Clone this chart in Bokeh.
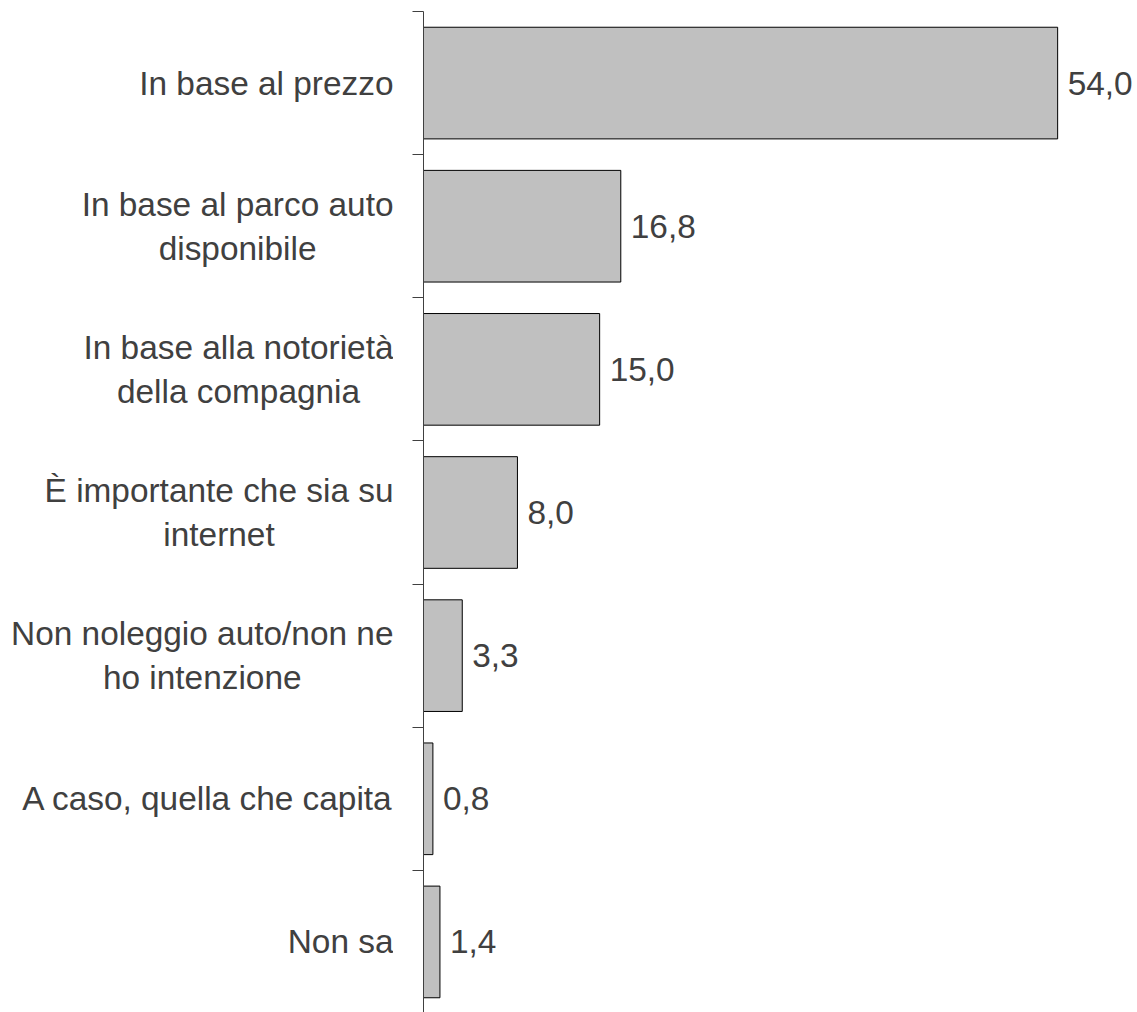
from bokeh.plotting import figure
from bokeh.models import Range1d, FixedTicker, ColumnDataSource, LabelSet
from bokeh.layouts import row
from bokeh.core.properties import value
from bokeh.embed import file_html
from bokeh.resources import INLINE

categories = [
    "In base al prezzo",
    "In base al parco auto\ndisponibile",
    "In base alla notorietà\ndella compagnia",
    "È importante che sia su\ninternet",
    "Non noleggio auto/non ne\nho intenzione",
    "A caso, quella che capita",
    "Non sa",
]
values = [54.0, 16.8, 15.0, 8.0, 3.3, 0.8, 1.4]

n = len(categories)
centers = [i + 0.5 for i in range(n)]
boundaries = list(range(n + 1))
value_labels = [f"{v:.1f}".replace(".", ",") for v in values]

src = ColumnDataSource(dict(y=centers, v=values, lab=value_labels,
                            cat=categories, xr=[1.0] * n))

FONT = "Liberation Sans"
FSIZE = "33.4px"
TXT = "#404040"
H = 1013
yr = Range1d(n, 0)

# left panel: category labels (block right-aligned, lines centred)
pl = figure(width=393, height=H, output_backend="svg", toolbar_location=None,
            x_range=Range1d(0, 1), y_range=yr,
            x_axis_location=None, y_axis_location=None,
            min_border_left=0, min_border_right=0,
            min_border_top=11, min_border_bottom=0)
pl.outline_line_color = None
pl.xgrid.visible = False
pl.ygrid.visible = False
pl.text(x="xr", y="y", text="cat", source=src, anchor="center_right",
        text_align="center", text_baseline="middle",
        text_font=value(FONT), text_font_size=FSIZE, text_color=TXT,
        text_line_height=1.2)

# right panel: bars
p = figure(width=744, height=H, output_backend="svg", toolbar_location=None,
           x_range=Range1d(0, 60.8), y_range=yr,
           x_axis_location=None, min_border_left=30, min_border_right=0,
           min_border_top=11, min_border_bottom=0)
p.outline_line_color = None
p.xgrid.visible = False
p.ygrid.visible = False

p.hbar(y="y", left=0, right="v", height=0.78, source=src,
       fill_color="#C0C0C0", line_color="#000000", line_width=1)

labels = LabelSet(x="v", y="y", text="lab", source=src, x_offset=10,
                  text_baseline="middle", text_font=value(FONT),
                  text_font_size=FSIZE, text_color=TXT)
p.add_layout(labels)

ax = p.yaxis[0]
ax.ticker = FixedTicker(ticks=centers, minor_ticks=boundaries)
ax.major_label_text_font_size = "0px"
ax.major_label_text_alpha = 0
ax.major_label_standoff = 0
ax.major_tick_out = 0
ax.major_tick_in = 0
ax.minor_tick_out = 11
ax.minor_tick_in = 0
ax.minor_tick_line_color = "#404040"
ax.axis_line_color = "#404040"

layout = row(pl, p, spacing=0)
open("out.html", "w").write(file_html(layout, INLINE))
